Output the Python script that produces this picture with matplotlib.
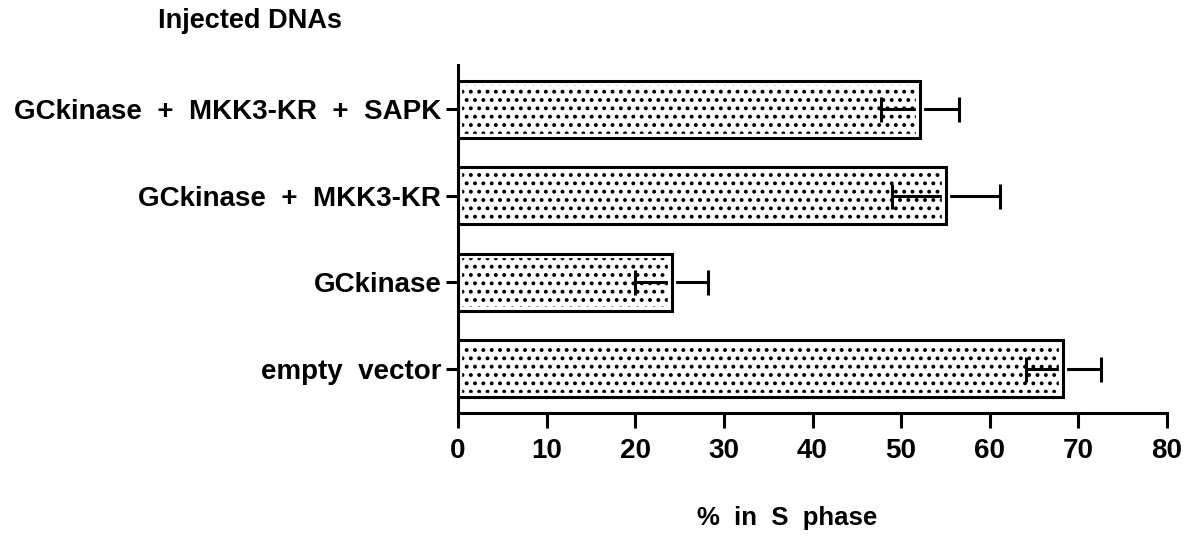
import matplotlib.pyplot as plt

# injected DNA constructs, bottom to top
labels = ['empty  vector', 'GCkinase', 'GCkinase  +  MKK3-KR', 'GCkinase  +  MKK3-KR  +  SAPK']
pct_s = [68.3, 24.1, 55.1, 52.1]
err = [4.2, 4.1, 6.1, 4.4]
xticks = [0, 10, 20, 30, 40, 50, 60, 70, 80]

plt.rcParams['font.family'] = ['Liberation Sans', 'DejaVu Sans']
plt.rcParams['font.weight'] = 'bold'
plt.rcParams['hatch.linewidth'] = 1.6

W, H = 1191, 537
fig = plt.figure(figsize=(W / 100, H / 100), dpi=100)
ax = fig.add_axes([458 / W, 1 - 413 / H, (1167 - 458) / W, (413 - 65) / H])

ypos = list(range(len(labels)))

# dotted bars
ax.barh(ypos, pct_s, height=0.66, color='white', edgecolor='black',
        hatch='..', linewidth=0, zorder=1)
ax.errorbar(pct_s, ypos, xerr=err, fmt='none', ecolor='black', elinewidth=2.2,
            capsize=9, capthick=2.2, zorder=2)
# white halo then black outline, gives the little gap where the error line crosses the edge
ax.barh(ypos, pct_s, height=0.66, fill=False, edgecolor='white', linewidth=6, zorder=3)
ax.barh(ypos, pct_s, height=0.66, fill=False, edgecolor='black', linewidth=2.2, zorder=4)

ax.set_xlim(0, 80)
ax.set_ylim(-0.51, 3.51)
ax.set_xticks(xticks)
ax.set_xticklabels([str(t) for t in xticks], fontsize=20, fontweight='bold')
ax.set_yticks(ypos)
ax.set_yticklabels(labels, fontsize=20, fontweight='bold')

for s in ['top', 'right']:
    ax.spines[s].set_visible(False)
for s in ['left', 'bottom']:
    ax.spines[s].set_linewidth(2.2)
    ax.spines[s].set_zorder(6)
ax.tick_params(axis='x', direction='out', length=11, width=2.2, pad=7)
ax.tick_params(axis='y', direction='out', length=9, width=2.2, pad=3)

fig.text(158 / W, 1 - 21 / H, 'Injected DNAs', fontsize=19.5, fontweight='bold',
         ha='left', va='center')
fig.text(787 / W, 1 - 518 / H, '%  in  S  phase', fontsize=18.5, fontweight='bold',
         ha='center', va='center')

fig.savefig('out.png', dpi=100)
